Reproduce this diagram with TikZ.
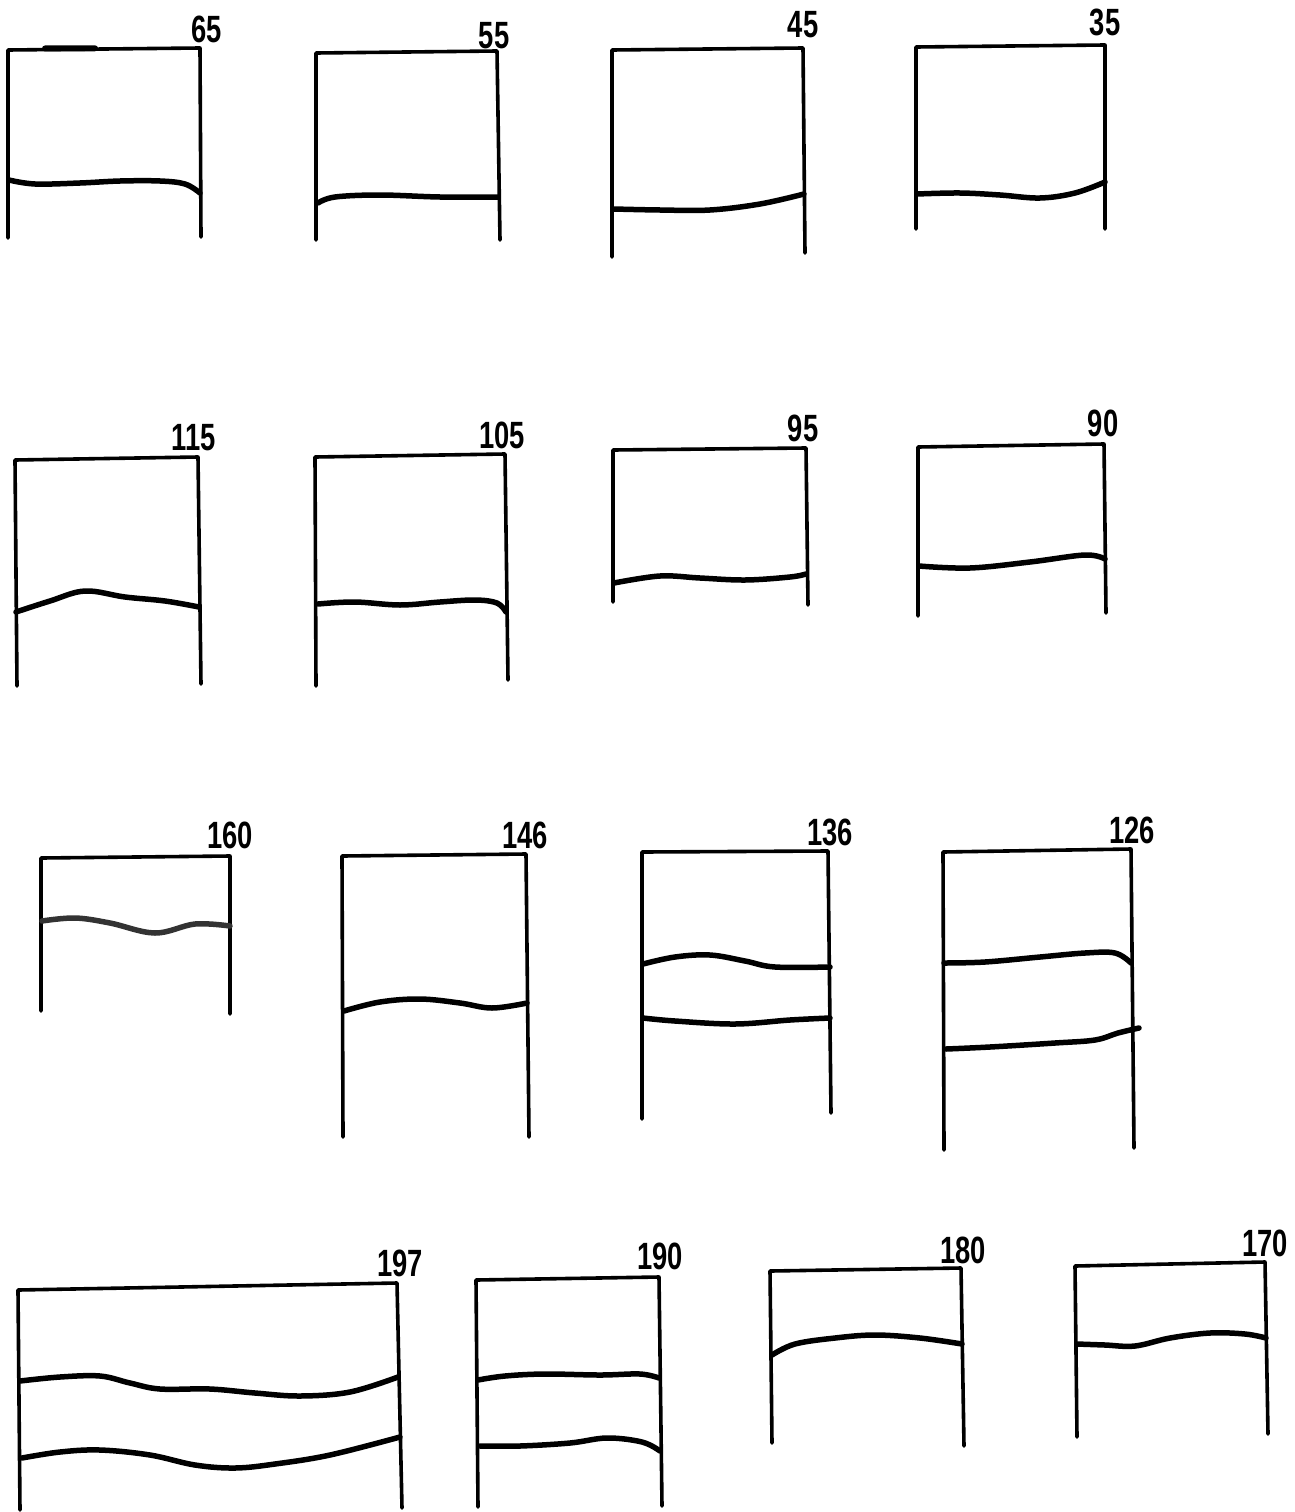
\documentclass[tikz,border=0pt]{standalone}
\usepackage{fontspec}
\setmainfont{Liberation Sans}[FakeStretch=0.72]
\begin{document}
\begin{tikzpicture}[x=1pt,y=-1pt,
  frame/.style={line width=3.6pt, line cap=round, line join=round},
  wave/.style={line width=5.5pt, line cap=round, smooth, tension=0.6},
  lbl/.style={font=\fontsize{38}{38}\bfseries\selectfont, inner sep=0pt, anchor=center}]
\useasboundingbox[fill=white] (0,0) rectangle (1295,1512);

% ---------- Row 1 ----------
% 65
\draw[frame] (8,238) -- (8,50) -- (200,48) -- (201,237);
\draw[line width=6pt, line cap=round] (45,48.5) -- (95,48.3);
\draw[wave] plot coordinates {(9,180) (35,184) (80,183) (120,181) (160,181) (185,184) (200,193)};
\node[lbl] (l65) at (207,29) {65};
% 55
\draw[frame] (316,240) -- (316,53) -- (497,51) -- (500,240);
\draw[wave] plot coordinates {(318,203) (335,197) (380,195) (440,197) (498,197)};
\node[lbl] (l55) at (494,36) {55};
% 45
\draw[frame] (612,257) -- (612,50) -- (803,48) -- (805,253);
\draw[wave] plot coordinates {(614,209) (660,210) (710,210) (760,204) (804,194)};
\node[lbl] (l45) at (803,25) {45};
% 35
\draw[frame] (916,229) -- (916,47) -- (1105,45) -- (1105,229);
\draw[wave] plot coordinates {(917,194) (960,193) (1000,195) (1040,198) (1075,193) (1105,182)};
\node[lbl] (l35) at (1105,22) {35};

% ---------- Row 2 ----------
% 115
\draw[frame] (17,686) -- (15,460) -- (198,457) -- (201,684);
\draw[wave] plot coordinates {(16,612) (50,601) (85,591) (125,597) (165,601) (199,607)};
\node[lbl] (l115) at (194,438) {115};
% 105
\draw[frame] (316,686) -- (315,457) -- (505,454) -- (508,680);
\draw[wave] plot coordinates {(318,604) (355,602) (400,605) (440,602) (475,600) (497,603) (506,612)};
\node[lbl] (l105) at (502,435) {105};
% 95
\draw[frame] (613,602) -- (613,450) -- (806,448) -- (808,605);
\draw[wave] plot coordinates {(614,583) (660,576) (700,578) (745,580) (790,577) (806,574)};
\node[lbl] (l95) at (803,428) {95};
% 90
\draw[frame] (918,616) -- (918,447) -- (1104,444) -- (1106,613);
\draw[wave] plot coordinates {(919,566) (970,568) (1030,562) (1085,555) (1105,559)};
\node[lbl] (l90) at (1103,423) {90};

% ---------- Row 3 ----------
% 160
\draw[frame] (41,1011) -- (41,858) -- (230,856) -- (230,1014);
\draw[wave, black!80] plot coordinates {(42,921) (75,918) (110,923) (155,933) (195,924) (230,926)};
\node[lbl] (l160) at (230,835) {160};
% 146
\draw[frame] (343,1137) -- (342,856) -- (526,854) -- (529,1137);
\draw[wave] plot coordinates {(344,1011) (380,1002) (420,999) (460,1003) (492,1008) (527,1003)};
\node[lbl] (l146) at (525,835) {146};
% 136
\draw[frame] (642,1119) -- (642,852) -- (828,851) -- (831,1113);
\draw[wave] plot coordinates {(643,964) (675,957) (710,955) (745,961) (775,967) (830,967)};
\draw[wave] plot coordinates {(643,1018) (675,1021) (735,1024) (790,1020) (830,1018)};
\node[lbl] (l136) at (830,832) {136};
% 126
\draw[frame] (944,1150) -- (943,852) -- (1131,849) -- (1134,1148);
\draw[wave] plot coordinates {(944,963) (985,962) (1040,957) (1085,953) (1115,953) (1131,963)};
\draw[wave] plot coordinates {(946,1049) (990,1047) (1055,1043) (1095,1040) (1118,1033) (1139,1028)};
\node[lbl] (l126) at (1132,830) {126};

% ---------- Row 4 ----------
% 197
\draw[frame] (20,1510) -- (18,1290) -- (397,1283) -- (402,1508);
\draw[wave] plot coordinates {(20,1381) (60,1377) (100,1376) (130,1383) (160,1389) (210,1389) (255,1393) (300,1396) (350,1392) (398,1377)};
\draw[wave] plot coordinates {(22,1458) (60,1452) (100,1450) (150,1455) (195,1465) (235,1468) (275,1464) (330,1455) (400,1437)};
\node[lbl] (l197) at (400,1263) {197};
% 190
\draw[frame] (478,1507) -- (476,1280) -- (659,1277) -- (662,1506);
\draw[wave] plot coordinates {(478,1380) (505,1376) (545,1374) (600,1375) (640,1374) (659,1378)};
\draw[wave] plot coordinates {(480,1446) (520,1446) (570,1443) (607,1438) (642,1442) (660,1451)};
\node[lbl] (l190) at (660,1256) {190};
% 180
\draw[frame] (772,1443) -- (770,1271) -- (961,1268) -- (964,1446);
\draw[wave] plot coordinates {(772,1355) (795,1344) (835,1338) (875,1335) (920,1338) (962,1344)};
\node[lbl] (l180) at (963,1250) {180};
% 170
\draw[frame] (1077,1437) -- (1075,1266) -- (1265,1262) -- (1268,1434);
\draw[wave] plot coordinates {(1077,1344) (1105,1345) (1135,1346) (1170,1338) (1210,1333) (1245,1334) (1266,1338)};
\node[lbl] (l170) at (1265,1243) {170};
\end{tikzpicture}
\end{document}
